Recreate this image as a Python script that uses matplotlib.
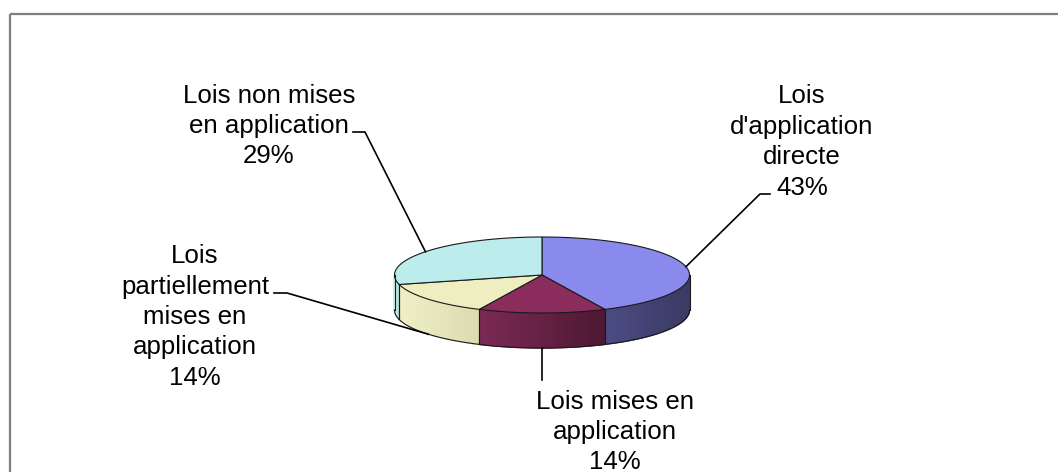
import numpy as np
import matplotlib.pyplot as plt
from matplotlib.patches import Polygon, Rectangle
from matplotlib.colors import to_rgb

# --- data ---
names = ["Lois\nd'application\ndirecte",
         "Lois mises en\napplication",
         "Lois\npartiellement\nmises en\napplication",
         "Lois non mises\nen application"]
shares = [43, 14, 14, 29]

top_colors = ['#8a8aec', '#8b2d5c', '#eeeec0', '#bcecec']
side_light = ['#4c4c86', '#7c2a55', '#f0f0c8', '#cdeeee']
side_dark = ['#3a3a62', '#4e1833', '#dcdcb0', '#b8e0e0']

# --- layout (pixel coords) ---
cx, cy = 542, 275      # centre of the top face
a, b = 147.5, 38       # ellipse half axes
depth = 35
label_xy = [(802, 142), (615, 432), (195, 317), (269, 126)]
elbows = [[(760, 194), (770, 194)], [(542, 380)], [(287, 293), (274, 293)], [(365, 132), (353, 132)]]

plt.rcParams['font.family'] = ['Liberation Sans', 'DejaVu Sans']

fig = plt.figure(figsize=(10.58, 4.72), dpi=100)
ax = fig.add_axes([0, 0, 1, 1])
ax.set_xlim(0, 1058)
ax.set_ylim(472, 0)
ax.axis('off')

# outer frame (runs off the right and bottom edges)
ax.add_patch(Rectangle((10, 14), 1100, 500, fill=False, ec='#7f7f7f', lw=1.6))


def pt(th):
    return cx + a * np.cos(th), cy - b * np.sin(th)


# slice angles: start at 12 o'clock, clockwise
total = float(sum(shares))
bounds = [np.pi / 2]
for s in shares:
    bounds.append(bounds[-1] - 2 * np.pi * s / total)

# side walls (front half only: angles between -pi and 0)
for i in range(len(shares)):
    lo, hi = min(bounds[i], bounds[i + 1]), max(bounds[i], bounds[i + 1])
    for shift in (0, 2 * np.pi):
        vlo = max(lo + shift, -np.pi)
        vhi = min(hi + shift, 0)
        if vhi <= vlo:
            continue
        ths = np.linspace(vlo, vhi, 60)
        c1 = np.array(to_rgb(side_light[i]))
        c2 = np.array(to_rgb(side_dark[i]))
        xs = [pt(t)[0] for t in ths]
        xmin, xmax = min(xs), max(xs)
        for k in range(len(ths) - 1):
            xa, ya = pt(ths[k])
            xb, yb = pt(ths[k + 1])
            f = ((xa + xb) / 2 - xmin) / max(xmax - xmin, 1)
            col = c1 * (1 - f) + c2 * f
            ax.add_patch(Polygon([(xa, ya), (xb, yb), (xb, yb + depth), (xa, ya + depth)],
                                 closed=True, fc=col, ec=col, lw=1.0))
        # outline of this wall
        arc = [pt(t) for t in ths]
        ax.plot([p[0] for p in arc], [p[1] + depth for p in arc], color='#1a1a1a', lw=0.8)
        for t in (vlo, vhi):
            x0, y0 = pt(t)
            ax.plot([x0, x0], [y0, y0 + depth], color='#1a1a1a', lw=0.8)

# top faces
for i in range(len(shares)):
    ths = np.linspace(bounds[i], bounds[i + 1], 100)
    poly = [(cx, cy)] + [pt(t) for t in ths]
    ax.add_patch(Polygon(poly, closed=True, fc=top_colors[i], ec='#1a1a1a', lw=0.8))

# labels with leader lines
for i in range(len(shares)):
    mid = (bounds[i] + bounds[i + 1]) / 2
    x0, y0 = pt(mid)
    if np.sin(mid) < 0:
        y0 += depth
    path = [(x0, y0)] + elbows[i]
    ax.plot([p[0] for p in path], [p[1] for p in path], color='black', lw=1.2)
    ax.text(label_xy[i][0], label_xy[i][1], f"{names[i]}\n{shares[i]}%",
            ha='center', va='center', multialignment='center',
            fontsize=18.6, linespacing=1.34, color='black')

fig.savefig('out.png', dpi=100)
